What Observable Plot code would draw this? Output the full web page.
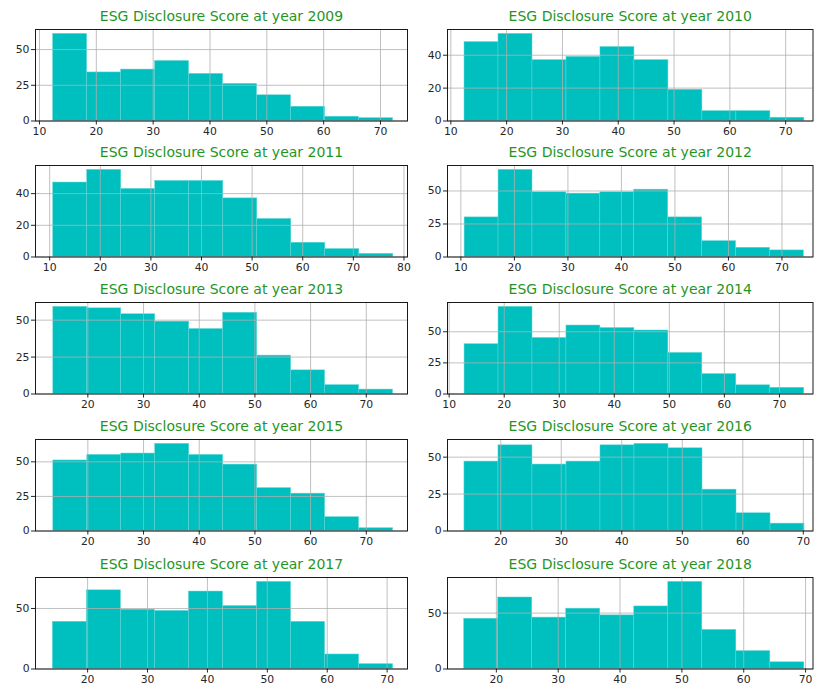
<!DOCTYPE html>
<html><head><meta charset="utf-8">
<script src="https://cdn.jsdelivr.net/npm/d3@7"></script>
<script src="https://cdn.jsdelivr.net/npm/@observablehq/plot@0.6"></script>
<style>
body{margin:0;background:#fff;}
#chart{position:relative;width:814px;height:684px;overflow:hidden;font-family:"DejaVu Sans",sans-serif;}
.panel{position:absolute;}
.panel svg{overflow:visible;}
</style></head><body><div id="chart"></div>
<script>
// Years shown (one histogram per year, 10 bins each)
const years = [2009, 2010, 2011, 2012, 2013, 2014, 2015, 2016, 2017, 2018];

// Bin counts
const counts2009 = [61, 34, 36, 42, 33, 26, 18, 10, 3, 2];
const counts2010 = [48, 53, 37, 39, 45, 37, 19, 6, 6, 2];
const counts2011 = [47, 55, 43, 48, 48, 37, 24, 9, 5, 2];
const counts2012 = [30, 66, 49, 48, 49, 51, 30, 12, 7, 5];
const counts2013 = [59, 58, 54, 49, 44, 55, 26, 16, 6, 3];
const counts2014 = [40, 70, 45, 55, 53, 51, 33, 16, 7, 5];
const counts2015 = [51, 55, 56, 63, 55, 48, 31, 27, 10, 2];
const counts2016 = [47, 58, 45, 47, 58, 59, 56, 28, 12, 5];
const counts2017 = [39, 65, 49, 48, 64, 52, 72, 39, 12, 4];
const counts2018 = [45, 64, 46, 54, 48, 56, 78, 35, 16, 6];

// Min / max score of each year's data (histogram range)
const scoreMin = [12.4, 12.45, 10.7, 10.7, 13.8, 12.8, 13.8, 14.0, 14.2, 14.8];
const scoreMax = [72.2, 73.35, 77.9, 74.1, 74.8, 74.5, 74.8, 70.2, 71.0, 69.8];

// Visible x-axis range of each panel
const xLo = [9.3, 9.4, 7.2, 7.5, 10.6, 9.7, 10.6, 11.2, 11.3, 12.1];
const xHi = [74.75, 74.9, 80.7, 75.8, 77.4, 76.1, 77.4, 71.6, 73.4, 71.2];

// Tick labels
const xTicks = [
  [10, 20, 30, 40, 50, 60, 70],
  [10, 20, 30, 40, 50, 60, 70],
  [10, 20, 30, 40, 50, 60, 70, 80],
  [10, 20, 30, 40, 50, 60, 70],
  [20, 30, 40, 50, 60, 70],
  [10, 20, 30, 40, 50, 60, 70],
  [20, 30, 40, 50, 60, 70],
  [20, 30, 40, 50, 60, 70],
  [20, 30, 40, 50, 60, 70],
  [20, 30, 40, 50, 60, 70]
];
const yTicks = [
  [0, 25, 50], [0, 20, 40], [0, 20, 40], [0, 25, 50], [0, 25, 50],
  [0, 25, 50], [0, 25, 50], [0, 25, 50], [0, 50], [0, 50]
];

const allCounts = [counts2009, counts2010, counts2011, counts2012, counts2013,
                   counts2014, counts2015, counts2016, counts2017, counts2018];

// layout
const rowTop = [29, 165, 302, 439, 577];
const frameH = 91.5;
const mTop = 26, mBottom = 22;
const cols = [
  {left: 0, width: 410, ml: 35, mr: 3},
  {left: 410, width: 404, ml: 37, mr: 1.5}
];

const chart = document.getElementById("chart");
years.forEach((year, i) => {
  const counts = allCounts[i];
  const lo = scoreMin[i], hi = scoreMax[i];
  const edges = d3.range(counts.length + 1).map(k => lo + k * (hi - lo) / counts.length);
  const data = counts.map((c, k) => ({x1: edges[k], x2: edges[k + 1], n: c}));
  const col = cols[i % 2];
  const row = Math.floor(i / 2);
  const svg = Plot.plot({
    width: col.width,
    height: mTop + frameH + mBottom,
    marginLeft: col.ml,
    marginRight: col.mr,
    marginTop: mTop,
    marginBottom: mBottom,
    style: {fontFamily: "DejaVu Sans", fontSize: "10px", color: "#262626", background: "transparent", overflow: "visible"},
    x: {domain: [xLo[i], xHi[i]]},
    y: {domain: [0, d3.max(counts) * 1.05]},
    marks: [
      Plot.rect(data, {x1: "x1", x2: "x2", y1: 0, y2: "n", fill: "#00bfbf", stroke: "#5fd6d6", strokeWidth: 0.5}),
      Plot.gridX(xTicks[i], {stroke: "#b0b0b0", strokeOpacity: 1, strokeWidth: 0.8}),
      Plot.gridY(yTicks[i], {stroke: "#b0b0b0", strokeOpacity: 1, strokeWidth: 0.8}),
      Plot.axisX(xTicks[i], {tickSize: 4, tickPadding: 2, fontSize: 10.8, label: null, stroke: "#262626"}),
      Plot.axisY(yTicks[i], {tickSize: 4, tickPadding: 2, fontSize: 10.8, label: null, stroke: "#262626"}),
      Plot.frame({stroke: "#1a1a1a", strokeWidth: 1}),
      Plot.text([`ESG Disclosure Score at year ${year}`], {
        frameAnchor: "top", dy: -13, fill: "#1f961f", fontSize: 14, lineAnchor: "middle"
      })
    ]
  });
  const div = document.createElement("div");
  div.className = "panel";
  div.style.left = col.left + "px";
  div.style.top = (rowTop[row] - mTop) + "px";
  div.appendChild(svg);
  chart.appendChild(div);
});
</script>
</body></html>
